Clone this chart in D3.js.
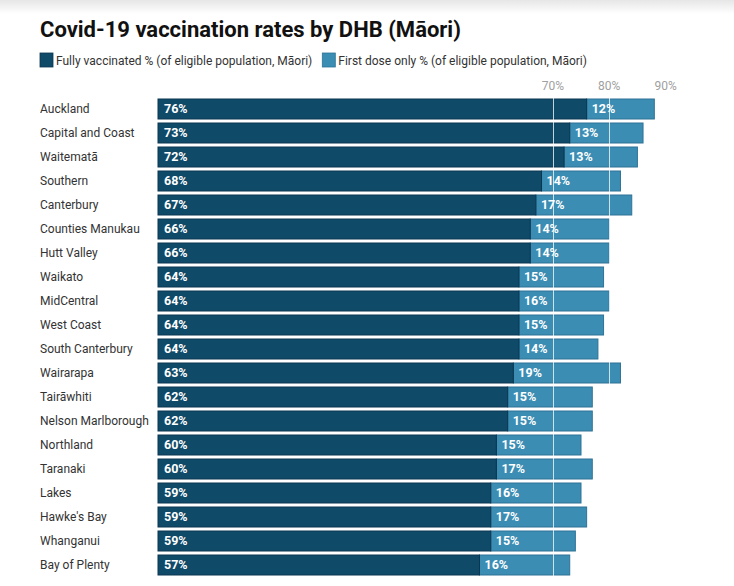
<!DOCTYPE html>
<html><head><meta charset="utf-8">
<script src="https://cdn.jsdelivr.net/npm/d3@7"></script>
<style>body{margin:0;background:#fff;}svg{display:block;font-family:Roboto,"Noto Sans",sans-serif;}</style>
</head><body>
<svg id="c" width="734" height="586"></svg>
<script>
const categories = ["Auckland","Capital and Coast","Waitematā","Southern","Canterbury","Counties Manukau","Hutt Valley","Waikato","MidCentral","West Coast","South Canterbury","Wairarapa","Tairāwhiti","Nelson Marlborough","Northland","Taranaki","Lakes","Hawke's Bay","Whanganui","Bay of Plenty"];
const fullyVaccinated = [76,73,72,68,67,66,66,64,64,64,64,63,62,62,60,60,59,59,59,57];
const firstDoseOnly = [12,13,13,14,17,14,14,15,16,15,14,19,15,15,15,17,16,17,15,16];
const tickValues = [70,80,90];
const seriesNames = ["Fully vaccinated % (of eligible population, Māori)","First dose only % (of eligible population, Māori)"];
const colors = ["#0f4a69","#3b8db4"];
const strokes = ["#0a3650","#2f7396"];

const svg = d3.select("#c");
const defs = svg.append("defs");
const g = defs.append("linearGradient").attr("id","topg").attr("x1",0).attr("x2",0).attr("y1",0).attr("y2",1);
g.append("stop").attr("offset","0%").attr("stop-color","#e6e6e6");
g.append("stop").attr("offset","100%").attr("stop-color","#ffffff");
svg.append("rect").attr("x",0).attr("y",0).attr("width",734).attr("height",14).attr("fill","url(#topg)");

svg.append("text").attr("x",40).attr("y",37).attr("font-size",22).attr("font-weight",700)
  .attr("fill","#111").text("Covid-19 vaccination rates by DHB (Māori)");

// legend
let lx = 40;
seriesNames.forEach((n,i)=>{
  svg.append("rect").attr("x",lx).attr("y",53).attr("width",13).attr("height",14)
    .attr("fill",colors[i]).attr("stroke",strokes[i]).attr("stroke-width",0.8);
  const t = svg.append("text").attr("x",lx+16).attr("y",64.5).attr("font-size",12).attr("fill","#333").text(n);
  lx = lx + 16 + t.node().getComputedTextLength() + 10;
});

const x = d3.scaleLinear().domain([0,90]).range([158,158+90*5.64]);
const y = d3.scaleBand().domain(categories).range([97,577]).paddingInner(1/6).paddingOuter(1/12);

// tick labels
svg.append("g").selectAll("text").data(tickValues).join("text")
  .attr("x",d=>x(d)).attr("y",90).attr("text-anchor","middle").attr("font-size",12)
  .attr("fill","#a0a0a0").text(d=>d+"%");

// category labels
svg.append("g").selectAll("text").data(categories).join("text")
  .attr("x",40).attr("y",d=>y(d)+y.bandwidth()/2).attr("dy","0.35em")
  .attr("font-size",12).attr("fill","#333").text(d=>d);

const rows = categories.map((c,i)=>({c, a:fullyVaccinated[i], b:firstDoseOnly[i]}));
const bars = svg.append("g");
bars.selectAll("rect.b").data(rows).join("rect").attr("class","b")
  .attr("x",d=>x(d.a)).attr("y",d=>y(d.c)).attr("width",d=>x(d.a+d.b)-x(d.a)).attr("height",y.bandwidth())
  .attr("fill",colors[1]).attr("stroke",strokes[1]).attr("stroke-width",1);
bars.selectAll("rect.a").data(rows).join("rect").attr("class","a")
  .attr("x",x(0)).attr("y",d=>y(d.c)).attr("width",d=>x(d.a)-x(0)).attr("height",y.bandwidth())
  .attr("fill",colors[0]).attr("stroke",strokes[0]).attr("stroke-width",1);

// gridlines over bars (white, so invisible in gaps)
svg.append("g").selectAll("line").data([70,80]).join("line")
  .attr("x1",d=>Math.round(x(d))+0.5).attr("x2",d=>Math.round(x(d))+0.5)
  .attr("y1",97).attr("y2",577).attr("stroke","#ffffff").attr("stroke-width",1).attr("opacity",0.75);

// value labels
svg.append("g").selectAll("text").data(rows).join("text")
  .attr("x",x(0)+6).attr("y",d=>y(d.c)+y.bandwidth()/2).attr("dy","0.35em")
  .attr("font-size",12.5).attr("font-weight",700).attr("fill","#fff").text(d=>d.a+"%");
svg.append("g").selectAll("text").data(rows).join("text")
  .attr("x",d=>x(d.a)+5).attr("y",d=>y(d.c)+y.bandwidth()/2).attr("dy","0.35em")
  .attr("font-size",12.5).attr("font-weight",700).attr("fill","#fff").text(d=>d.b+"%");
</script>
</body></html>
